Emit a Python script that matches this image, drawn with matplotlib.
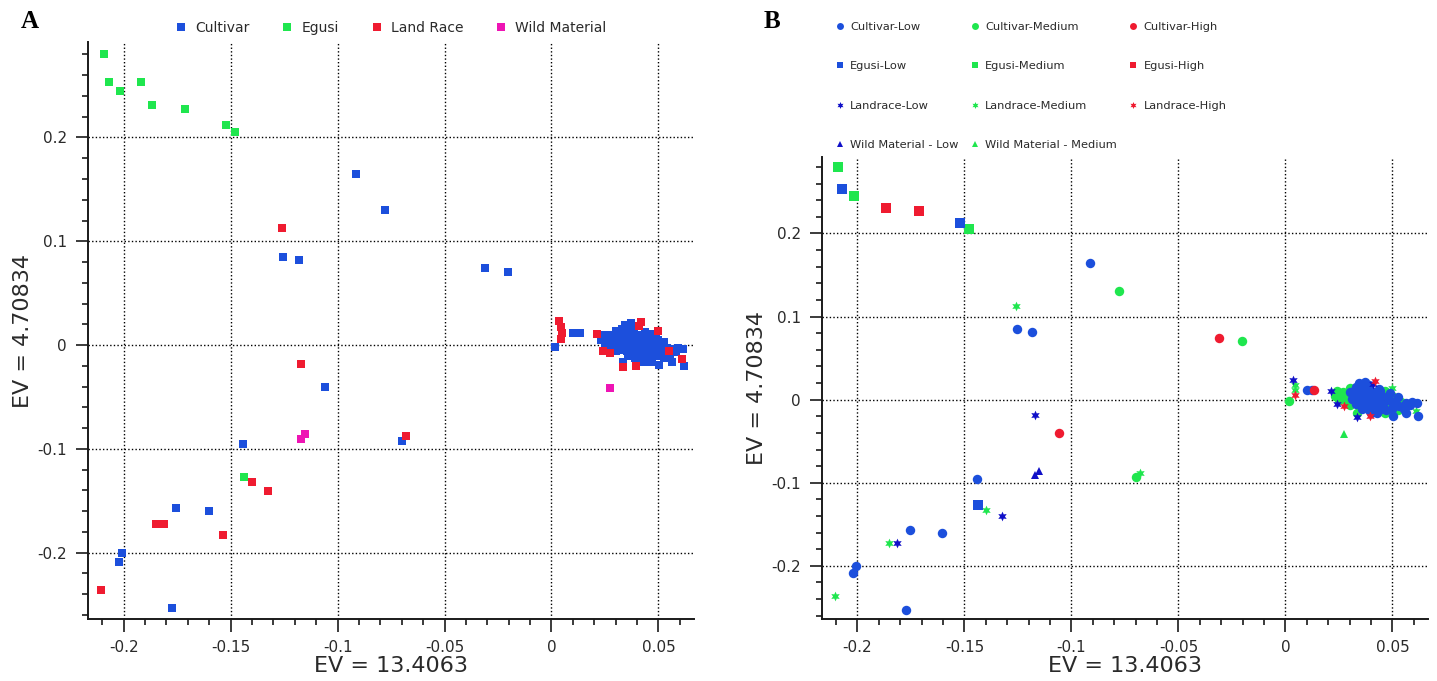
import numpy as np
import matplotlib.pyplot as plt
from matplotlib.lines import Line2D
from matplotlib.ticker import MultipleLocator, FuncFormatter

plt.rcParams['font.family'] = 'DejaVu Sans'
plt.rcParams['axes.unicode_minus'] = False

# PCA scores per accession group: x = axis 1 (EV 13.4063), y = axis 2 (EV 4.70834)
# level '' = accession not scored for the trait level
cultivar_x = [-0.0915, -0.0779, -0.1253, -0.1182, -0.0309, -0.0205, -0.1058, -0.0700,
              -0.1443, -0.1754, -0.1603, -0.2007, -0.2021, -0.1775,
              0.0017, 0.0100, 0.0122, 0.0132,
              0.0345, 0.0370, 0.0390,
              0.0300, 0.0330, 0.0355, 0.0385, 0.0435,
              0.0240, 0.0270, 0.0300, 0.0320, 0.0350, 0.0380, 0.0410, 0.0440, 0.0465, 0.0490,
              0.0230, 0.0260, 0.0290, 0.0315, 0.0340, 0.0365, 0.0395, 0.0420, 0.0450, 0.0475,
              0.0500, 0.0525,
              0.0250, 0.0285, 0.0310, 0.0335, 0.0360, 0.0385, 0.0410, 0.0435, 0.0460, 0.0485,
              0.0510, 0.0540, 0.0565, 0.0590, 0.0615,
              0.0300, 0.0330, 0.0355, 0.0380, 0.0405, 0.0430, 0.0455, 0.0480, 0.0505, 0.0530,
              0.0580,
              0.0360, 0.0390, 0.0420, 0.0445, 0.0470, 0.0500, 0.0525, 0.0555,
              0.0336, 0.0400, 0.0430, 0.0465, 0.0501, 0.0564, 0.0620]
cultivar_y = [0.1648, 0.1305, 0.0852, 0.0818, 0.0745, 0.0707, -0.0400, -0.0925,
              -0.0953, -0.1572, -0.1603, -0.2005, -0.2090, -0.2530,
              -0.0020, 0.0114, 0.0114, 0.0112,
              0.0195, 0.0210, 0.0180,
              0.0140, 0.0150, 0.0145, 0.0135, 0.0130,
              0.0100, 0.0095, 0.0090, 0.0100, 0.0105, 0.0090, 0.0095, 0.0100, 0.0110, 0.0080,
              0.0050, 0.0040, 0.0055, 0.0045, 0.0050, 0.0040, 0.0055, 0.0040, 0.0050, 0.0035,
              0.0045, 0.0030,
              0.0000, -0.0010, 0.0005, -0.0005, 0.0000, -0.0010, 0.0000, -0.0015, -0.0005, -0.0010,
              -0.0020, -0.0030, -0.0040, -0.0030, -0.0040,
              -0.0060, -0.0050, -0.0060, -0.0055, -0.0065, -0.0050, -0.0070, -0.0060, -0.0065, -0.0080,
              -0.0065,
              -0.0110, -0.0120, -0.0105, -0.0115, -0.0120, -0.0110, -0.0125, -0.0110,
              -0.0160, -0.0160, -0.0165, -0.0160, -0.0195, -0.0159, -0.0200]
cultivar_level = ['Low', 'Medium', 'Low', 'Low', 'High', 'Medium', 'High', 'Medium',
                  'Low', 'Low', 'Low', 'Low', 'Low', 'Low',
                  'Medium', 'Low', 'Low', 'High',
                  'Low', 'Low', 'Low',
                  'Medium', 'Low', 'Low', 'Low', 'Low',
                  'Medium', 'Medium', 'Low', 'Low', 'Low', 'Low', 'Low', 'Low', 'Medium', 'Low',
                  'Medium', 'Medium', 'Medium', 'Low', 'Low', 'Low', 'Low', 'Low', 'Low', 'Low',
                  'Medium', 'Low',
                  'Medium', 'Medium', 'Low', 'Low', 'Low', 'Low', 'Low', 'Low', 'Medium', 'Low',
                  'Low', 'Medium', 'Low', 'Low', 'Low',
                  'Medium', 'Low', 'Low', 'Low', 'Low', 'Low', 'Low', 'Medium', 'Low', 'Low',
                  'Low',
                  'Low', 'Low', 'Low', 'Low', 'Low', 'Low', 'Medium', 'Low',
                  'Medium', 'Low', 'Low', 'Medium', 'Low', 'Low', 'Low']

egusi_x = [-0.2093, -0.2070, -0.2018, -0.1921, -0.1866, -0.1713, -0.1522, -0.1480, -0.1436]
egusi_y = [0.2805, 0.2534, 0.2450, 0.2536, 0.2312, 0.2270, 0.2125, 0.2053, -0.1272]
egusi_level = ['Medium', 'Low', 'Medium', '', 'High', 'High', 'Low', 'Medium', 'Low']

landrace_x = [-0.1259, -0.1170, -0.0679, -0.1401, -0.1323, -0.1851, -0.1813, -0.1537, -0.2105,
              0.0037, 0.0043, 0.0047, 0.0045, 0.0214, 0.0240, 0.0274, 0.0419, 0.0411,
              0.0497, 0.0336, 0.0396, 0.0551, 0.0609]
landrace_y = [0.1131, -0.0185, -0.0880, -0.1322, -0.1404, -0.1725, -0.1725, -0.1827, -0.2362,
              0.0232, 0.0172, 0.0118, 0.0062, 0.0105, -0.0056, -0.0072, 0.0226, 0.0185,
              0.0140, -0.0207, -0.0200, -0.0062, -0.0136]
landrace_level = ['Medium', 'Low', 'Medium', 'Medium', 'Low', 'Medium', 'Low', '', 'Medium',
                  'Low', 'Medium', 'Medium', 'High', 'Low', 'Low', 'High', 'High', 'Low',
                  'Medium', 'Low', 'High', 'Medium', 'Medium']

wild_x = [-0.1172, -0.1153, 0.0274]
wild_y = [-0.0910, -0.0860, -0.0410]
wild_level = ['Low', 'Low', 'Medium']

groups = [
    ('Cultivar', cultivar_x, cultivar_y, cultivar_level),
    ('Egusi', egusi_x, egusi_y, egusi_level),
    ('Land Race', landrace_x, landrace_y, landrace_level),
    ('Wild Material', wild_x, wild_y, wild_level),
]
levels = ['Low', 'Medium', 'High']

blue = '#1c4fdc'
navy = '#1010c8'
green = '#1fe64e'
red = '#ef1b30'
magenta = '#ee14b4'

group_colour = {'Cultivar': blue, 'Egusi': green, 'Land Race': red, 'Wild Material': magenta}
level_colour = {'Low': blue, 'Medium': green, 'High': red}
level_zorder = {'Medium': 2.0, 'Low': 2.1, 'High': 2.2}
group_marker = {'Cultivar': 'o', 'Egusi': 's', 'Land Race': (6, 1, 0), 'Wild Material': '^'}
group_size = {'Cultivar': 6.8, 'Egusi': 6.6, 'Land Race': 7.0, 'Wild Material': 6.0}
legend_b_name = {'Cultivar': 'Cultivar', 'Egusi': 'Egusi', 'Land Race': 'Landrace',
                 'Wild Material': 'Wild Material'}

text_col = '#2a2a2a'


def tick_fmt(v, pos):
    v = round(v, 3)
    if abs(v) < 1e-9:
        return '0'
    return '%g' % v


def style_axes(ax):
    ax.set_xlim(-0.2167, 0.0666)
    ax.set_ylim(-0.264, 0.292)
    ax.xaxis.set_major_locator(MultipleLocator(0.05))
    ax.xaxis.set_minor_locator(MultipleLocator(0.01))
    ax.yaxis.set_major_locator(MultipleLocator(0.1))
    ax.yaxis.set_minor_locator(MultipleLocator(0.02))
    ax.xaxis.set_major_formatter(FuncFormatter(tick_fmt))
    ax.yaxis.set_major_formatter(FuncFormatter(tick_fmt))
    ax.grid(True, which='major', color='black', linestyle=(0, (1, 1.6)), linewidth=1.0)
    ax.set_axisbelow(True)
    for s in ['top', 'right']:
        ax.spines[s].set_visible(False)
    for s in ['left', 'bottom']:
        ax.spines[s].set_linewidth(1.4)
        ax.spines[s].set_color('#1a1a1a')
    ax.tick_params(which='major', length=9, width=1.2, direction='out', labelsize=11,
                   pad=6, colors='#1a1a1a', labelcolor=text_col)
    ax.tick_params(which='minor', length=4.5, width=1.2, direction='out', colors='#1a1a1a')
    ax.set_xlabel('EV = 13.4063', fontsize=16, color=text_col, labelpad=1)
    ax.set_ylabel('EV = 4.70834', fontsize=16, color=text_col, labelpad=3)


fig = plt.figure(figsize=(14.37, 6.81), dpi=100)
ax_a = fig.add_axes([0.0612, 0.0910, 0.4217, 0.8473])
ax_b = fig.add_axes([0.5718, 0.0910, 0.4219, 0.6784])

# panel A: coloured by material type
handles_a = []
for name, xs, ys, lv in groups:
    ax_a.plot(xs, ys, ls='none', marker='s', ms=5.8, mew=0, color=group_colour[name])
    handles_a.append(Line2D([], [], ls='none', marker='s', ms=6, mew=0,
                            color=group_colour[name], label=name))
style_axes(ax_a)

# panel B: marker = material type, colour = trait level
handles_b = {}
for name, xs, ys, lv in groups:
    xs = np.array(xs)
    ys = np.array(ys)
    lv = np.array(lv)
    for level in levels:
        mask = lv == level
        if not mask.any():
            continue
        col = level_colour[level]
        if level == 'Low' and name in ('Land Race', 'Wild Material'):
            col = navy
        ax_b.plot(xs[mask], ys[mask], ls='none', marker=group_marker[name],
                  ms=group_size[name], mew=0, color=col, zorder=level_zorder[level])
        sep = ' - ' if name == 'Wild Material' else '-'
        handles_b[(name, level)] = Line2D([], [], ls='none', marker=group_marker[name],
                                          ms=5, mew=0, color=col,
                                          label=legend_b_name[name] + sep + level)
style_axes(ax_b)

fig.legend(handles=handles_a, loc='center', bbox_to_anchor=(391 / 1437, 1 - 28 / 681),
           ncol=4, frameon=False, fontsize=10, handlelength=0.8, handletextpad=0.6,
           columnspacing=2.35, labelcolor=text_col)

order_b = [(n, lv) for lv in levels for n, _, _, _ in groups if (n, lv) in handles_b]
fig.legend(handles=[handles_b[k] for k in order_b], loc='center',
           bbox_to_anchor=(1031 / 1437, 1 - 86 / 681), ncol=3, frameon=False,
           fontsize=8.2, handlelength=0.8, handletextpad=0.5, columnspacing=1.05,
           labelspacing=2.55, labelcolor=text_col)

fig.text(30 / 1437, 1 - 22 / 681, 'A', fontfamily='Liberation Serif', fontweight='bold',
         fontsize=18, ha='center', va='center')
fig.text(772 / 1437, 1 - 22 / 681, 'B', fontfamily='Liberation Serif', fontweight='bold',
         fontsize=18, ha='center', va='center')

fig.savefig('out.png', dpi=100)
